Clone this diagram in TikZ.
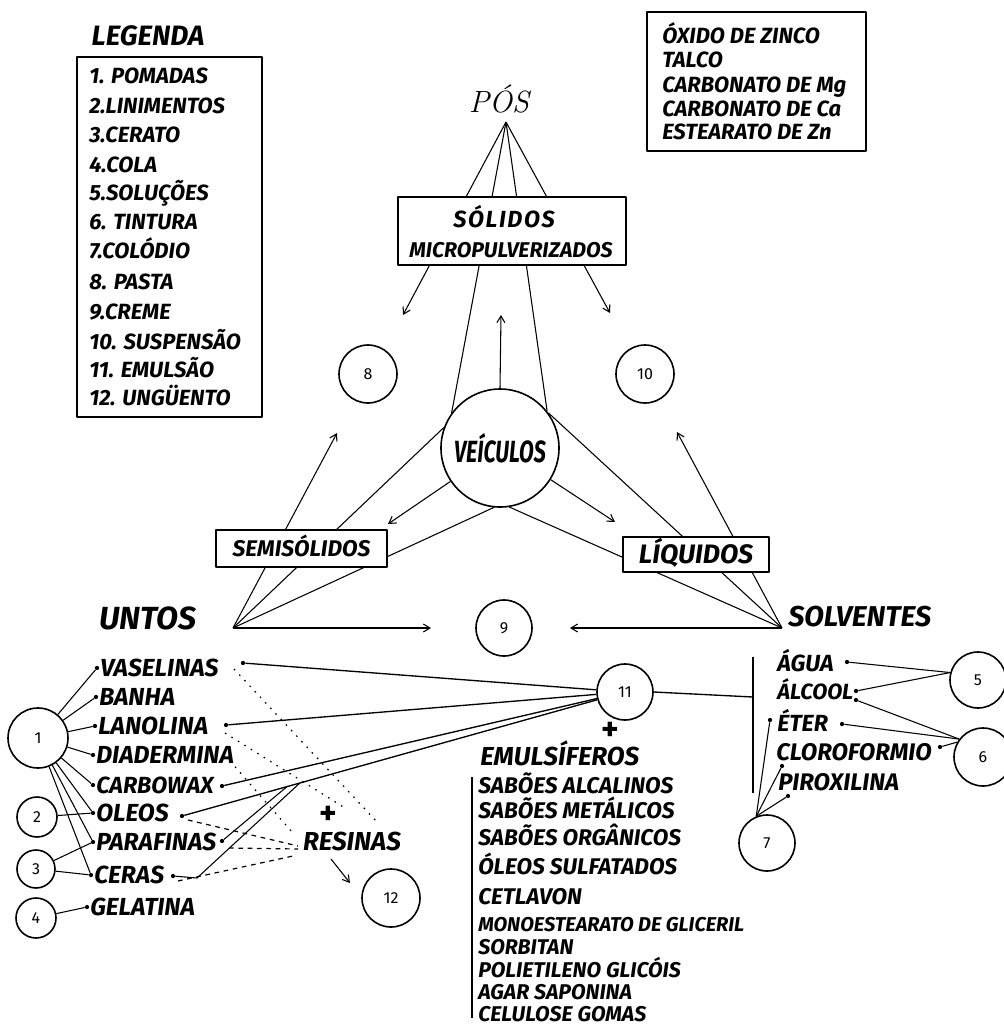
\documentclass[tikz,border=0pt]{standalone}
\usepackage{fontspec}
\newfontfamily\hand{Fira Sans}[FakeStretch=1.0]
\newfontfamily\handn{Fira Sans}[FakeStretch=0.7]
\newfontfamily\handsp{Fira Sans}[LetterSpace=7]
\usetikzlibrary{arrows.meta,backgrounds,calc}
\tikzset{
  hw/.style={font=\hand\bfseries\itshape\fontsize{#1}{#1}\selectfont, inner sep=0pt, text height={#1*0.69pt}, text depth=0pt},
  plusn/.style={font=\hand\bfseries\fontsize{25}{25}\selectfont, inner sep=0pt},
  ln/.style={line width=0.8pt},
  arr/.style={line width=0.8pt, -{Straight Barb[length=5pt,width=6pt]}},
  bx/.style={draw, line width=1.1pt, fill=white, inner sep=0pt},
  cn/.style={circle, draw, line width=1.2pt, fill=white, inner sep=0pt, minimum size=#1, font=\hand\fontsize{12}{12}\selectfont},
  dotn/.style={circle, fill=black, inner sep=0pt, minimum size=3.2pt},
  dotl/.style={line width=0.9pt, dash pattern=on 1.2pt off 4.5pt},
  dashl/.style={line width=0.9pt, dash pattern=on 3.5pt off 3.5pt},
  lw/.style={hw=18.5, anchor=west},
  ew/.style={hw=17, anchor=west},
  ewb/.style={hw=16, anchor=west},
  gw/.style={hw=16.5, anchor=west},
  pw/.style={hw=16.5, anchor=west},
}
\begin{document}
\begin{tikzpicture}[x=0.75pt,y=-0.75pt, line join=round, line cap=round]
\useasboundingbox (0,0) rectangle (1004,1026);

% ---------- legend ----------
\node[hw=21] (leg) at (148,36) {LEGENDA};
\node[bx, minimum width=138.75pt, minimum height=270pt] (legbox) at (169.5,237) {};
\node[gw] (l1) at (89,76) {1. POMADAS};
\node[gw] (l2) at (89,106) {2.LINIMENTOS};
\node[gw] (l3) at (89,135) {3.CERATO};
\node[gw] (l4) at (89,165) {4.COLA};
\node[gw] (l5) at (89,193) {5.SOLUÇÕES};
\node[gw] (l6) at (89,222) {6. TINTURA};
\node[gw] (l7) at (89,251) {7.COLÓDIO};
\node[gw] (l8) at (89,282) {8. PASTA};
\node[gw] (l9) at (89,312) {9.CREME};
\node[gw] (l10) at (89,342) {10. SUSPENSÃO};
\node[gw] (l11) at (89,370) {11. EMULSÃO};
\node[gw] (l12) at (89,398) {12. UNGÜENTO};

% ---------- powders box ----------
\node[bx, minimum width=164.25pt, minimum height=104.25pt] (pbox) at (756.5,81.5) {};
\node[pw] (p1) at (662,36) {ÓXIDO DE ZINCO};
\node[pw] (p2) at (662,60) {TALCO};
\node[pw] (p3) at (662,85) {CARBONATO DE Mg};
\node[pw] (p4) at (662,109) {CARBONATO DE Ca};
\node[pw] (p5) at (662,132) {ESTEARATO DE Zn};

% ---------- star ----------
\node[font=\rmfamily\itshape\fontsize{23}{23}\selectfont, inner sep=0pt] (pos) at (499,99) {PÓS};
\coordinate (apexP) at (506,122);
\node[bx, minimum width=171pt, minimum height=51pt] (sol) at (512,231) {};
\node[inner sep=0pt, font=\handsp\bfseries\itshape\fontsize{17.5}{17.5}\selectfont, text height=12pt, text depth=0pt] (solA) at (504,219) {SÓLIDOS};
\node[hw=16] (solB) at (511,250) {MICROPULVERIZADOS};

\node[cn=43.5pt] (c8) at (368,374) {8};
\node[cn=43.5pt] (c10) at (645,374) {10};
\node[cn=88.5pt, font=\handn\bfseries\itshape\fontsize{23}{23}\selectfont] (V) at (500,448) {VEÍCULOS};
\node[bx, hw=17, minimum width=128.25pt, minimum height=27.75pt] (semi) at (301.5,548.5) {SEMISÓLIDOS};
\node[bx, hw=20, minimum width=109.5pt, minimum height=26.25pt] (liq) at (696,554.5) {LÍQUIDOS};
\node[hw=24] (untos) at (148,618) {UNTOS};
\node[hw=21.5, anchor=west] (solv) at (788,617) {SOLVENTES};
\coordinate (apexU) at (233,628);
\coordinate (apexS) at (782,628);
\node[cn=42pt] (c9) at (504,628) {9};

\coordinate (t8a) at (403,315);
\coordinate (tUp) at (501,315);
\coordinate (t10a) at (610,313);
\coordinate (t8b) at (337,433);
\coordinate (t9a) at (431,628);
\coordinate (t10b) at (677,432);
\coordinate (t9b) at (570,628);
\coordinate (tSemi) at (388,524);
\coordinate (tLiq) at (615,522);

% ---------- lower left ----------
\node[cn=45pt] (c1) at (38,738) {1};
\node[cn=30pt] (c2) at (37,817) {2};
\node[cn=28.5pt] (c3) at (36,869) {3};
\node[cn=30pt] (c4) at (36,918) {4};

\node[dotn] (vasL) at (97,668) {};
\node[dotn] (banL) at (96,697) {};
\node[dotn] (lanL) at (95,726) {};
\node[dotn] (diaL) at (93,755) {};
\node[dotn] (carL) at (93,785) {};
\node[dotn] (oleL) at (93,813) {};
\node[dotn] (parL) at (93,842) {};
\node[dotn] (cerL) at (91,875) {};
\node[dotn] (gelL) at (87,907) {};

\node[lw] (vasT) at (100,668) {VASELINAS};
\node[lw] (banT) at (99,697) {BANHA};
\node[lw] (lanT) at (98,726) {LANOLINA};
\node[lw] (diaT) at (96,755) {DIADERMINA};
\node[hw=17.5, anchor=west] (carT) at (96,785) {CARBOWAX};
\node[lw] (oleT) at (96,813) {OLEOS};
\node[lw] (parT) at (96,842) {PARAFINAS};
\node[lw] (cerT) at (94,875) {CERAS};
\node[lw] (gelT) at (90,907) {GELATINA};

\node[dotn] (vasR) at (243,663) {};
\node[dotn] (lanR) at (226,725) {};
\node[dotn] (carR) at (222,786) {};
\node[dotn] (oleR) at (182,816) {};
\node[dotn] (parR) at (222,841) {};
\node[dotn] (cerR) at (173,876) {};
\coordinate (cerB) at (197,878);

\node[plusn] (plusR) at (328,815) {+};
\node[hw=19.5] (res) at (352,842) {RESINAS};
\node[cn=43.5pt] (c12) at (391,898) {12};
\coordinate (r12s) at (331,859);
\coordinate (tip12) at (350,883);

% ---------- emulsion ----------
\node[cn=42pt] (c11) at (625,692) {11};
\node[plusn] (plusE) at (610,731) {+};
\node[hw=19.5, anchor=west] (emu) at (480,757) {EMULSÍFEROS};
\coordinate (eT) at (472,777);
\coordinate (eB) at (472,1018);
\node[ew] (e1) at (478,786) {SABÕES ALCALINOS};
\node[ew] (e2) at (478,811) {SABÕES METÁLICOS};
\node[ew] (e3) at (478,838) {SABÕES ORGÂNICOS};
\node[ew] (e4) at (478,867) {ÓLEOS SULFATADOS};
\node[ew] (e5) at (478,897) {CETLAVON};
\node[hw=15, anchor=west] (e6) at (478,925) {MONOESTEARATO DE GLICERIL};
\node[ewb] (e7) at (478,947) {SORBITAN};
\node[ewb] (e8) at (478,970) {POLIETILENO GLICÓIS};
\node[ewb] (e9) at (478,992) {AGAR SAPONINA};
\node[ewb] (e10) at (478,1014) {CELULOSE GOMAS};

% ---------- solvents ----------
\coordinate (barT) at (753,657);
\coordinate (barB) at (753,793);
\coordinate (barM) at (753,697);
\node[hw=17.5, anchor=west] (agu) at (777,663) {ÁGUA};
\node[hw=16.5, anchor=west] (alc) at (777,692) {ÁLCOOL};
\node[hw=17.5, anchor=west] (ete) at (777,723) {ÉTER};
\node[hw=18, anchor=west] (clo) at (776,752) {CLOROFORMIO};
\node[hw=18, anchor=west] (pir) at (778,782) {PIROXILINA};
\node[dotn] (aguR) at (847,662) {};
\node[dotn] (alcR1) at (856,691) {};
\node[dotn] (alcR2) at (856,700) {};
\node[dotn] (eteL) at (770,720) {};
\node[dotn] (eteR) at (842,724) {};
\node[dotn] (cloR) at (940,747) {};
\node[dotn] (cloL) at (782,766) {};
\node[dotn] (pirL) at (788,796) {};
\node[cn=42pt] (c5) at (978,680) {5};
\node[cn=43.5pt] (c6) at (983,757) {6};
\node[cn=42pt] (c7) at (767,843) {7};

% dotted guide coordinates
\coordinate (d1a) at (234,669); \coordinate (d1b) at (378,823);
\coordinate (d2a) at (225,733); \coordinate (d2b) at (345,808);
\coordinate (d3a) at (230,761); \coordinate (d3b) at (292,832);
\coordinate (d4a) at (188,820); \coordinate (d4b) at (298,846);
\coordinate (d5a) at (229,848); \coordinate (d5b) at (298,849);
\coordinate (d6a) at (178,881); \coordinate (d6b) at (293,856);

% ---------- connectors ----------
\begin{scope}[on background layer]
  \draw[arr] (apexP) -- (t8a);
  \draw[ln] (apexP) -- (V.144);
  \draw[ln] (apexP) -- (V.38);
  \draw[arr] (apexP) -- (t10a);
  \draw[arr] (V.north) -- (tUp);
  \draw[arr] (apexU) -- (t8b);
  \draw[ln] (apexU) -- (V.160);
  \draw[ln] (apexU) -- (V.264);
  \draw[arr] (apexU) -- (t9a);
  \draw[arr] (apexS) -- (t10b);
  \draw[ln] (apexS) -- (V.36);
  \draw[ln] (apexS) -- (V.279);
  \draw[arr] (apexS) -- (t9b);
  \draw[arr] (V.214) -- (tSemi);
  \draw[arr] (V.328) -- (tLiq);

  \foreach \d in {vasL,banL,lanL,diaL,carL,oleL,parL,cerL}
    \draw[ln] (c1) -- (\d);
  \draw[ln] (c2) -- (oleL);
  \draw[ln] (c3) -- (parL);
  \draw[ln] (c3) -- (cerL);
  \draw[ln] (c4) -- (gelL);

  \draw[line width=1pt] (vasR) -- (c11);
  \draw[line width=1pt] (lanR) -- (c11);
  \draw[line width=1pt] (carR) -- (c11);
  \draw[line width=1pt] (oleR) -- (c11);
  \draw[ln] (parR) -- ($(oleR)!0.237!(c11)$);
  \draw[ln] (cerR) -- (cerB) -- ($(oleR)!0.266!(c11)$);

  \draw[dotl] (d1a) -- (d1b);
  \draw[dotl] (d2a) -- (d2b);
  \draw[dotl] (d3a) -- (d3b);
  \draw[dashl] (d4a) -- (d4b);
  \draw[dashl] (d5a) -- (d5b);
  \draw[dashl] (d6a) -- (d6b);
  \draw[arr] (r12s) -- (tip12);

  \draw[ln] (eT) -- (eB);
  \draw[line width=1pt] (c11.east) -- (barM);
  \draw[line width=2.2pt] (barT) -- (barB);

  \draw[ln] (aguR) -- (c5.165);
  \draw[ln] (alcR1) -- (c5.165);
  \draw[ln] (alcR2) -- (c6.143);
  \draw[ln] (eteR) -- (c6.143);
  \draw[ln] (cloR) -- (c6.150);
  \draw[ln] (c7.112) -- (eteL);
  \draw[ln] (c7.112) -- (cloL);
  \draw[ln] (c7.112) -- (pirL);
\end{scope}
\end{tikzpicture}
\end{document}
